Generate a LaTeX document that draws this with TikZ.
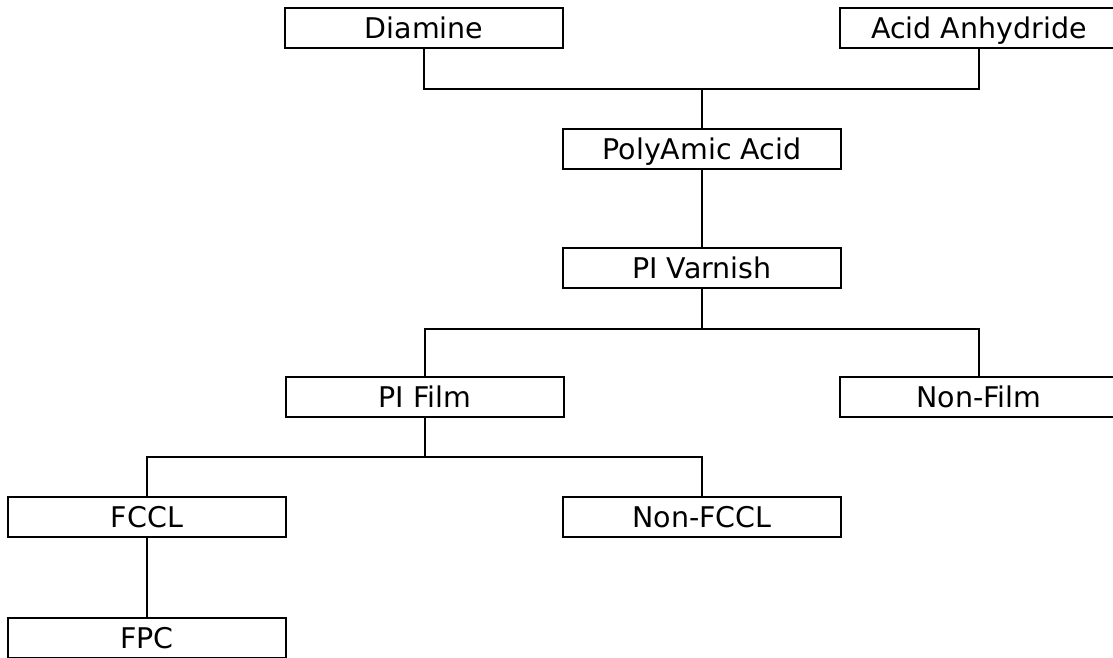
\documentclass[tikz,border=0pt]{standalone}
\usepackage{fontspec}
\usepackage{tikz}
\usetikzlibrary{positioning}
\newfontfamily\prodfont{DejaVu Sans}
\tikzset{
  prodnode/.style = {align=center, inner sep=0pt, text centered,
    font=\prodfont\fontsize{28.5}{30}\selectfont},
  prod_b/.style = {prodnode, rectangle, draw=black, line width=2.3pt,
    minimum width=278pt, minimum height=40pt,
    text height=20.8pt, text depth=0pt},% boite produit
  link/.style = {draw=black, line width=2.3pt}% trait de liaison
}
\begin{document}
\begin{tikzpicture}[x=1pt,y=-1pt]
\clip (0,0) rectangle (1113,657);
% matieres premieres
\node [prod_b] (diamine) at (424,28) {Diamine};
\node [prod_b] (acid) at (979,28) {Acid Anhydride};
\node [prod_b] (polyamic) at (702,149) {PolyAmic Acid};
\node [prod_b] (varnish) at (702,268) {PI Varnish};
% produits
\node [prod_b] (film) at (425,397) {PI Film};
\node [prod_b] (nonfilm) at (979,397) {Non-Film};
\node [prod_b] (fccl) at (147,517) {FCCL};
\node [prod_b] (nonfccl) at (702,517) {Non-FCCL};
\node [prod_b] (fpc) at (147,638) {FPC};
\coordinate (j1) at (702,89);
\coordinate (j2) at (702,329);
\coordinate (j3) at (425,457);
\draw [link] (diamine.south) |- (j1) -| (acid.south);
\draw [link] (j1) -- (polyamic.north);
\draw [link] (polyamic) -- (varnish);
\draw [link] (varnish) -- (j2);
\draw [link] (film.north) |- (j2) -| (nonfilm.north);
\draw [link] (film) -- (j3);
\draw [link] (fccl.north) |- (j3) -| (nonfccl.north);
\draw [link] (fccl) -- (fpc);
\end{tikzpicture}
\end{document}
